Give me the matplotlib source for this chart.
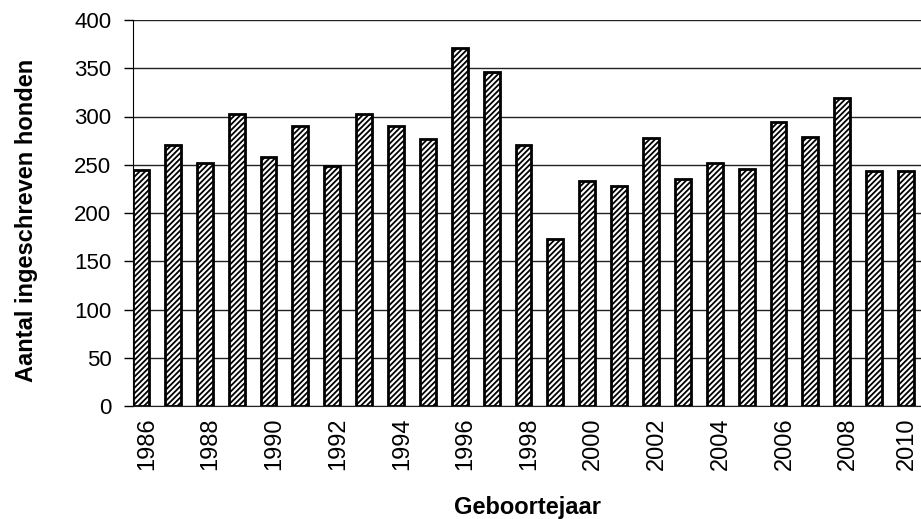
import numpy as np
import matplotlib
matplotlib.use('Agg')
import matplotlib.pyplot as plt
import matplotlib.transforms as mtransforms

# number of registered dogs per birth year
years = list(range(1986, 2011))
dogs = [245, 270, 252, 303, 258, 290, 249, 303, 290, 277,
        371, 346, 270, 173, 233, 228, 278, 235, 252, 246,
        294, 279, 319, 244, 244]
yticks = [0, 50, 100, 150, 200, 250, 300, 350, 400]

plt.rcParams['font.family'] = ['Liberation Sans', 'DejaVu Sans']
plt.rcParams['hatch.linewidth'] = 1.3
plt.rcParams['hatch.color'] = 'black'

fig = plt.figure(figsize=(9.21, 5.19), dpi=100)
ax = fig.add_axes([133/921, 1 - 406/519, 1 - 133/921, 386/519])

x = np.arange(len(years))
ax.bar(x, dogs, width=0.5, color='white', edgecolor='black',
       linewidth=2.0, hatch='//////', zorder=3)

ax.set_ylim(0, 400)
ax.set_xlim(-0.25, 24.47)
ax.set_yticks(yticks)
ax.set_yticklabels([str(v) for v in yticks], fontsize=16)
ax.yaxis.grid(True, color='#222222', linewidth=1.0, zorder=0)
ax.set_axisbelow(True)

ax.set_xticks(x[::2])
ax.set_xticklabels([str(y) for y in years[::2]], rotation=90, fontsize=17)
ax.tick_params(axis='x', length=0, pad=8)
ax.tick_params(axis='y', length=6.5, width=1, pad=9, direction='out')

# year labels sit a bit right of the bar centres in the original
xlabels = ax.get_xticklabels()
for i, lbl in enumerate(xlabels):
    dx = 6 if i < len(xlabels) - 1 else 1   # keep the last one inside the picture
    offset = mtransforms.ScaledTranslation(dx/100, 0, fig.dpi_scale_trans)
    lbl.set_transform(lbl.get_transform() + offset)

for side in ['top', 'right']:
    ax.spines[side].set_visible(False)
ax.spines['left'].set_color('black')
ax.spines['bottom'].set_color('#222222')

ax.set_ylabel('Aantal ingeschreven honden', fontsize=17, fontweight='bold')
ax.yaxis.set_label_coords(-0.1206, 0.482)
ax.set_xlabel('Geboortejaar', fontsize=17, fontweight='bold')
ax.xaxis.set_label_coords(0.5, -0.232)

fig.savefig('out.png', dpi=100)
